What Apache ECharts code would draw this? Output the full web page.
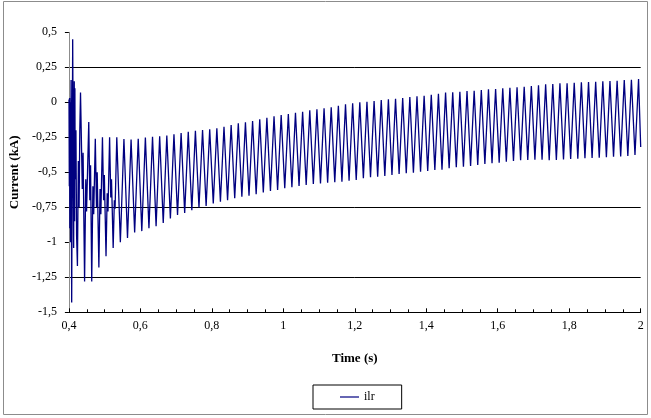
<!DOCTYPE html>
<html><head><meta charset="utf-8">
<script src="https://cdn.jsdelivr.net/npm/echarts@6/dist/echarts.min.js"></script>
<style>html,body{margin:0;padding:0;background:#fff}#c{width:651px;height:418px}</style>
</head><body><div id="c"></div>
<script>
// ---- data ----
const seriesName = 'ilr';
const xAxisTitle = 'Time (s)';
const yAxisTitle = 'Current (kA)';

// initial transient (time s, current kA)
const transientTimes = [0.4003,0.4012,0.4019,0.4026,0.4033,0.4040,0.4047,0.4061,0.4078,0.4106,0.4133,0.4150,0.4160,0.4168,0.4175,0.4197,0.4215,0.4239,0.4264,0.4286,0.4305,0.4325,0.4344,0.4375,0.4397,0.4439,0.4472,0.4494,0.4556,0.4586,0.4606,0.4639,0.4672,0.4694,0.4739,0.4772,0.4792,0.4839,0.4872,0.4894,0.4939,0.4972,0.4992,0.5039,0.5072,0.5094,0.5139,0.5172,0.5192,0.5239,0.5272,0.5292];
const transientValues = [0.02,-0.6,0.03,-0.9,0.0,-0.7,-1.0,0.16,-1.43,0.45,-1.04,0.15,-0.85,0.1,-0.55,-0.2,-0.95,-1.17,-0.42,-0.75,-0.2,0.07,0.06,-0.62,-0.36,-1.28,-0.55,-0.78,-0.14,-0.7,-0.45,-1.28,-0.6,-0.8,-0.26,-0.75,-0.5,-1.18,-0.62,-0.8,-0.25,-0.7,-0.52,-1.1,-0.65,-0.78,-0.25,-0.68,-0.55,-1.04,-0.7,-0.76];

// steady 50 Hz part: peaks and troughs, one every half period
const firstPeakTime = 0.534;
const halfPeriod = 0.01;
const peakValues = [-0.25,-0.262,-0.266,-0.26,-0.252,-0.247,-0.243,-0.237,-0.229,-0.219,-0.211,-0.204,-0.198,-0.192,-0.185,-0.174,-0.162,-0.15,-0.143,-0.134,-0.122,-0.11,-0.1,-0.091,-0.084,-0.074,-0.067,-0.057,-0.05,-0.043,-0.035,-0.024,-0.014,-0.007,0.0,0.004,0.009,0.016,0.021,0.026,0.031,0.038,0.043,0.047,0.054,0.061,0.069,0.071,0.076,0.081,0.083,0.088,0.093,0.095,0.1,0.104,0.107,0.111,0.116,0.121,0.128,0.131,0.136,0.136,0.14,0.143,0.145,0.147,0.15,0.152,0.154,0.159,0.161,0.166];
const troughValues = [-1.0,-0.97,-0.93,-0.92,-0.9,-0.885,-0.862,-0.83,-0.805,-0.79,-0.77,-0.752,-0.741,-0.722,-0.71,-0.699,-0.686,-0.674,-0.667,-0.657,-0.644,-0.634,-0.627,-0.614,-0.607,-0.598,-0.591,-0.584,-0.579,-0.574,-0.57,-0.567,-0.56,-0.555,-0.543,-0.536,-0.531,-0.526,-0.519,-0.512,-0.507,-0.503,-0.496,-0.491,-0.484,-0.481,-0.471,-0.464,-0.46,-0.455,-0.448,-0.441,-0.436,-0.431,-0.424,-0.419,-0.414,-0.412,-0.41,-0.41,-0.414,-0.412,-0.408,-0.405,-0.403,-0.4,-0.398,-0.396,-0.393,-0.389,-0.387,-0.384,-0.376];
const endTime = 2.0;
const endValue = -0.32;

// axes
const xMin = 0.4, xMax = 2.0, xStep = 0.2;
const yMin = -1.5, yMax = 0.5, yStep = 0.25;
const yGridShown = [-1.25, -0.75, 0.25];

// ---- build ----
const data = [];
for (let i = 0; i < transientTimes.length; i++) data.push([transientTimes[i], transientValues[i]]);
for (let k = 0; k < peakValues.length; k++) {
  data.push([+(firstPeakTime + 2 * k * halfPeriod).toFixed(4), peakValues[k]]);
  if (k < troughValues.length) data.push([+(firstPeakTime + (2 * k + 1) * halfPeriod).toFixed(4), troughValues[k]]);
}
data.push([endTime, endValue]);

const yTickCount = Math.round((yMax - yMin) / yStep) + 1;
const splitColors = [];
for (let i = 0; i < yTickCount; i++) {
  const v = +(yMin + i * yStep).toFixed(2);
  splitColors.push(yGridShown.indexOf(v) >= 0 ? '#000000' : 'rgba(0,0,0,0)');
}
const comma = v => String(+(+v).toFixed(2)).replace('.', ',');
const FONT = 'Liberation Serif';

const chart = echarts.init(document.getElementById('c'), null, {renderer: 'canvas'});
chart.setOption({
  animation: false,
  backgroundColor: '#fff',
  graphic: [{type: 'rect', silent: true, z: -10, shape: {x: 3.5, y: 1.5, width: 644, height: 413},
    style: {fill: 'none', stroke: '#8c8c8c', lineWidth: 1}}],
  grid: {left: 64, right: 10.3, top: 32.3, bottom: 105.7, containLabel: false},
  legend: {
    data: [seriesName], left: 313, top: 385, icon: 'rect', itemWidth: 19, itemHeight: 1.2,
    padding: [6, 27, 6, 27], borderColor: '#000', borderWidth: 1, borderRadius: 0,
    textStyle: {fontFamily: FONT, fontSize: 12, color: '#000'}
  },
  xAxis: {
    type: 'value', min: xMin, max: xMax, interval: xStep,
    name: xAxisTitle, nameLocation: 'middle', nameGap: 40,
    nameTextStyle: {fontFamily: FONT, fontSize: 13, fontWeight: 'bold', color: '#000'},
    axisLine: {show: true, onZero: false, lineStyle: {color: '#000', width: 1}},
    axisTick: {show: true, inside: true, length: 4, lineStyle: {color: '#000'}},
    minorTick: {show: true, splitNumber: 4, length: 3, lineStyle: {color: '#000'}},
    splitLine: {show: false},
    axisLabel: {fontFamily: FONT, fontSize: 12, color: '#000', margin: 8, formatter: comma}
  },
  yAxis: {
    type: 'value', min: yMin, max: yMax, interval: yStep,
    name: yAxisTitle, nameLocation: 'middle', nameGap: 46, nameRotate: 90,
    nameTextStyle: {fontFamily: FONT, fontSize: 13, fontWeight: 'bold', color: '#000'},
    axisLine: {show: true, onZero: false, lineStyle: {color: '#8c8c8c', width: 1}},
    axisTick: {show: true, inside: false, length: 4, lineStyle: {color: '#000'}},
    splitLine: {show: true, lineStyle: {color: splitColors, width: 1}},
    axisLabel: {fontFamily: FONT, fontSize: 12, color: '#000', margin: 12, formatter: comma}
  },
  series: [{
    name: seriesName, type: 'line', data: data, showSymbol: false, symbol: 'none',
    lineStyle: {color: '#000080', width: 1.3}, itemStyle: {color: '#000080'}, z: 3
  }]
});
</script></body></html>
